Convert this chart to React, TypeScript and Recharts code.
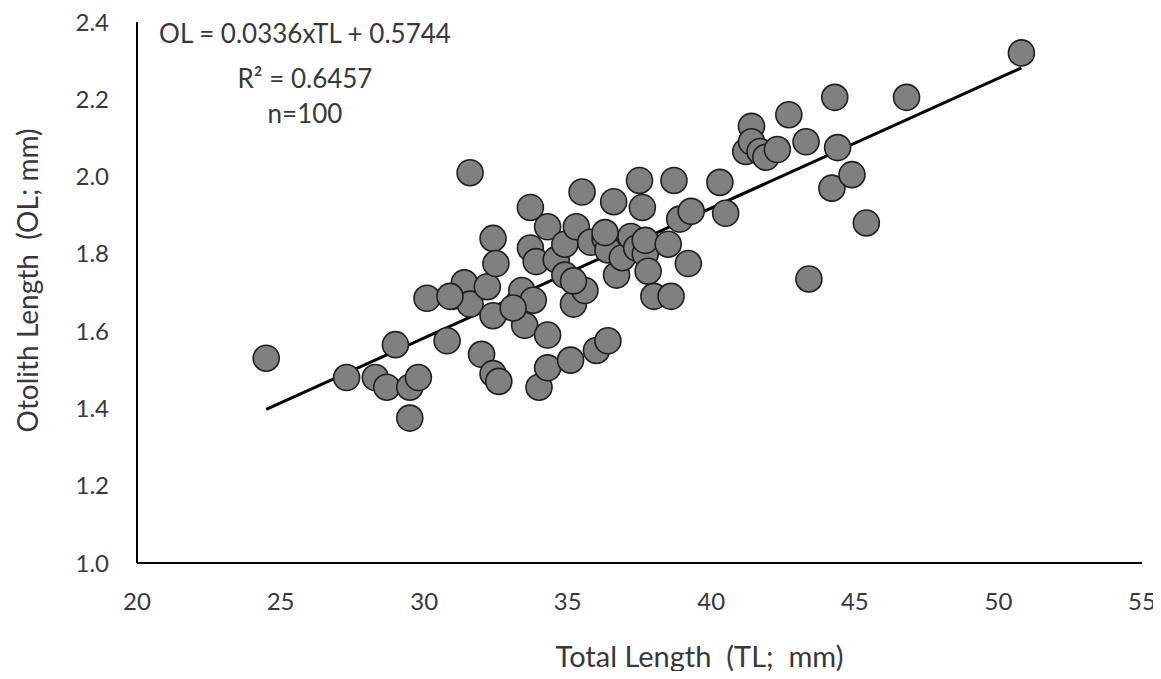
import { ScatterChart, Scatter, XAxis, YAxis, ReferenceLine } from "recharts"

const totalLength = [
  24.5, 27.3, 28.3, 28.7, 29.0, 29.5, 29.5, 29.8, 30.1, 30.8,
  31.0, 31.4, 31.6, 31.6, 32.0, 32.2, 32.4, 32.4, 32.4, 32.6,
  32.5, 33.3, 33.4, 33.5, 33.7, 33.7, 33.8, 33.9, 34.0, 34.3,
  34.3, 34.3, 34.6, 34.9, 34.9, 35.1, 35.2, 35.3, 35.5, 35.6,
  35.8, 36.0, 36.3, 36.4, 36.4, 36.6, 36.7, 36.9, 37.2, 37.4,
  37.5, 37.6, 37.7, 37.7, 37.8, 38.0, 38.5, 38.6, 38.7, 38.9,
  39.2, 39.3, 40.3, 40.5, 41.2, 41.4, 41.4, 41.7, 41.9, 42.3,
  42.7, 43.3, 43.4, 44.2, 44.3, 44.4, 44.9, 45.4, 46.8, 50.8,
  30.9, 35.2, 33.1, 36.3,
]

const otolithLength = [
  1.53, 1.48, 1.48, 1.455, 1.565, 1.455, 1.375, 1.48, 1.685, 1.575,
  1.69, 1.725, 2.01, 1.67, 1.54, 1.715, 1.84, 1.64, 1.49, 1.47,
  1.775, 1.675, 1.705, 1.615, 1.92, 1.815, 1.68, 1.78, 1.455, 1.87,
  1.59, 1.505, 1.785, 1.825, 1.745, 1.525, 1.67, 1.87, 1.96, 1.705,
  1.83, 1.55, 1.84, 1.81, 1.575, 1.935, 1.745, 1.79, 1.845, 1.815,
  1.99, 1.92, 1.8, 1.835, 1.755, 1.69, 1.825, 1.69, 1.99, 1.89,
  1.775, 1.91, 1.985, 1.905, 2.065, 2.13, 2.09, 2.065, 2.05, 2.07,
  2.16, 2.09, 1.735, 1.97, 2.205, 2.075, 2.005, 1.88, 2.205, 2.32,
  1.69, 1.73, 1.66, 1.855,
]

const xTicks = [20, 25, 30, 35, 40, 45, 50, 55]
const yTicks = [1.0, 1.2, 1.4, 1.6, 1.8, 2.0, 2.2, 2.4]

// trendline: OL = 0.0336 x TL + 0.5744
const slope = 0.0336
const intercept = 0.5744
const fitRange = [24.5, 50.8]

const points = totalLength.map((tl, i) => ({ tl, ol: otolithLength[i] }))

const font = "Lato, 'Open Sans', sans-serif"
const textColor = "#383838"

const Dot = (props: any) => (
  <circle cx={props.cx} cy={props.cy} r={13} fill="#808080" stroke="#1f1f1f" strokeWidth={1.6} />
)

const note = {
  position: "absolute" as const,
  left: 97,
  width: 400,
  textAlign: "center" as const,
  fontSize: 26,
  lineHeight: "30px",
  color: textColor,
  whiteSpace: "pre" as const,
}

export default function App() {
  return (
    <div style={{ position: "relative", width: 1153, height: 671, marginBottom: -8, fontFamily: font }}>
      <ScatterChart
        width={1153}
        height={671}
        margin={{ top: 14, right: 19, bottom: 0, left: 59 }}
        style={{ overflow: "visible" }}
      >
        <XAxis
          type="number"
          dataKey="tl"
          domain={[20, 55]}
          ticks={xTicks}
          tickLine={false}
          tickSize={0}
          tickMargin={30}
          height={116}
          axisLine={{ stroke: "#000", strokeWidth: 2 }}
          tick={{ fill: textColor, fontSize: 24, fontFamily: font }}
          label={{
            value: "Total Length\u00a0 (TL;\u00a0 mm)",
            position: "insideBottom",
            offset: 12,
            dx: 60,
            fill: textColor,
            fontSize: 29,
            fontFamily: font,
          }}
        />
        <YAxis
          type="number"
          dataKey="ol"
          domain={[1.0, 2.4]}
          ticks={yTicks}
          tickFormatter={(v: number) => v.toFixed(1)}
          tickLine={false}
          tickSize={0}
          tickMargin={28}
          width={70}
          axisLine={{ stroke: "#000", strokeWidth: 2 }}
          tick={{ fill: textColor, fontSize: 24, fontFamily: font }}
          label={{
            value: "Otolith Length\u00a0 (OL; mm)",
            position: "center",
            angle: -90,
            dx: -74,
            dy: -12,
            fill: textColor,
            fontSize: 28,
            fontFamily: font,
          }}
        />
        <Scatter data={points} shape={Dot} isAnimationActive={false} />
        <ReferenceLine
          segment={[
            { x: fitRange[0], y: slope * fitRange[0] + intercept },
            { x: fitRange[1], y: slope * fitRange[1] + intercept },
          ]}
          stroke="#000"
          strokeWidth={3}
          ifOverflow="visible"
        />
      </ScatterChart>
      <div style={{ ...note, top: 10 }}>OL = 0.0336xTL + 0.5744</div>
      <div style={{ ...note, top: 55 }}>R² = 0.6457</div>
      <div style={{ ...note, top: 90 }}>n=100</div>
    </div>
  )
}
